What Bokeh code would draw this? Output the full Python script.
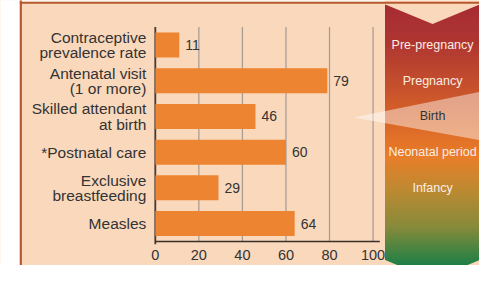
import numpy as np
from bokeh.plotting import figure
from bokeh.models import Range1d
from bokeh.core.properties import value
from bokeh.embed import file_html
from bokeh.resources import INLINE

# ---- data ----
categories = ["Contraceptive\nprevalence rate", "Antenatal visit\n(1 or more)",
              "Skilled attendant\nat birth", "*Postnatal care",
              "Exclusive\nbreastfeeding", "Measles"]
values = [11, 79, 46, 60, 29, 64]
xticks = [0, 20, 40, 60, 80, 100]
tick_labels = ["0", "20", "40", "60", "80", "100"]
stages = ["Pre-pregnancy", "Pregnancy", "Birth", "Neonatal period", "Infancy"]
stage_text_colors = ["#FCEDE4", "#FCEDE4", "#333333", "#FCEDE4", "#FCEDE4"]

# ---- layout helpers (reference-pixel -> data coords) ----
W, H = 479, 265
SX, SY = W / 495, H / 281
def fx(rx): return rx * SX
def fy(ry): return ry * SY
FX0 = fx(160); KX = 2.25 * SX
FY0 = fy(47.3); KY = 37.84 * SY
def X(rx): return (fx(rx) - FX0) / KX
def Y(ry): return (fy(ry) - FY0) / KY

PEACH = "#FAD8BC"
BAR = "#EC8431"
BROWN = "#B65A2E"
GRID = "#A39A94"
TXT = "#333333"
FONT = value("Liberation Sans")

AL, AR = 397.5, 495.5          # arrow left / right edges (reference px)
AC = (AL + AR) / 2

x0, x1 = (0 - FX0) / KX, (W - FX0) / KX
ytop, ybot = (0 - FY0) / KY, (H - FY0) / KY

p = figure(width=W, height=H, x_range=Range1d(x0, x1), y_range=Range1d(ybot, ytop),
           output_backend="svg", toolbar_location=None,
           x_axis_location=None, y_axis_location=None, min_border=0,
           background_fill_color=PEACH, border_fill_color="white",
           outline_line_color=None)
p.grid.visible = False

# white area outside the panel (left strip and very top)
p.quad(left=x0 - 5, right=X(20.5), bottom=ybot + 1, top=ytop - 1,
       fill_color="white", line_color=None)
p.quad(left=x0 - 5, right=x1 + 5, bottom=Y(1.2), top=ytop - 1,
       fill_color="white", line_color=None)

# gradient arrow: overlapping bands (each one covers everything below it)
stops_y = [4, 45, 90, 130, 165, 200, 240, 280]
stops_c = ["#A62C33", "#AF3631", "#C5502D", "#DA6728", "#E97D2A", "#BE8A31", "#878A3B", "#1F8046"]
def hex2rgb(h): return np.array([int(h[i:i + 2], 16) for i in (1, 3, 5)], dtype=float)
cols = np.array([hex2rgb(c) for c in stops_c])
rys = np.arange(3.5, 300, 1.0)
sc = []
for ry in rys:
    c = [np.interp(ry + 0.5, stops_y, cols[:, k]) for k in range(3)]
    sc.append("#%02x%02x%02x" % tuple(int(round(v)) for v in c))
p.quad(left=X(AL), right=X(520), top=[Y(r) for r in rys], bottom=[Y(320)] * len(rys),
       fill_color=sc, line_color=None)
# top notch
p.patch([X(AL - 0.5), X(AC), X(AR), X(520), X(520), X(AL - 0.5)],
        [Y(4), Y(25), Y(4), Y(4), Y(-5), Y(-5)], fill_color=PEACH, line_color=None)
# bottom point
p.patch([X(AL - 0.5), X(AC), X(AL - 0.5)], [Y(275), Y(296), Y(320)], fill_color=PEACH, line_color=None)
p.patch([X(AR), X(AC), X(520), X(520)], [Y(275), Y(296), Y(320), Y(275)], fill_color=PEACH, line_color=None)

# borders
p.segment(x0=X(21), y0=Y(-5), x1=X(21), y1=Y(300), line_color=BROWN, line_width=2.2)
p.segment(x0=X(20), y0=Y(2.3), x1=X(520), y1=Y(2.3), line_color=BROWN, line_width=2)

# gridlines + axes
p.segment(x0=xticks, y0=[Y(28)] * len(xticks), x1=xticks, y1=[Y(255)] * len(xticks),
          line_color=GRID, line_width=1.2)
p.segment(x0=[0], y0=[Y(28)], x1=[0], y1=[Y(258.5)], line_color="#4A3A30", line_width=1.8)
p.segment(x0=[0], y0=[Y(255.5)], x1=[X(392)], y1=[Y(255.5)], line_color="#3A302A", line_width=1.5)

# bars
idx = list(range(len(categories)))
p.hbar(y=idx, left=0, right=values, height=0.7, fill_color=BAR, line_color=None)

# value labels
p.text(x=values, y=idx, text=[str(v) for v in values], x_offset=6,
       text_font=FONT, text_font_size="14px", text_color=TXT,
       text_align="left", text_baseline="middle")

# category labels
p.text(x=[0] * len(categories), y=idx, text=categories, x_offset=-9,
       text_font=FONT, text_font_size="15.5px", text_color=TXT,
       text_align="right", text_baseline="middle", text_line_height=0.9)

# x tick labels
p.text(x=xticks, y=[Y(264.5)] * len(xticks), text=tick_labels,
       text_font=FONT, text_font_size="14.5px", text_color=TXT,
       text_align="center", text_baseline="top")

# birth overlay
p.patch([X(365), X(520), X(520)], [Y(124), Y(91.6), Y(152.5)],
        fill_color="white", fill_alpha=0.45, line_color=None)

# stage labels
p.text(x=[X(AC)] * len(stages), y=list(range(len(stages))), text=stages,
       text_font=FONT, text_font_size="12.5px", text_color=stage_text_colors,
       text_align="center", text_baseline="middle")

open("out.html", "w").write(file_html(p, INLINE))
